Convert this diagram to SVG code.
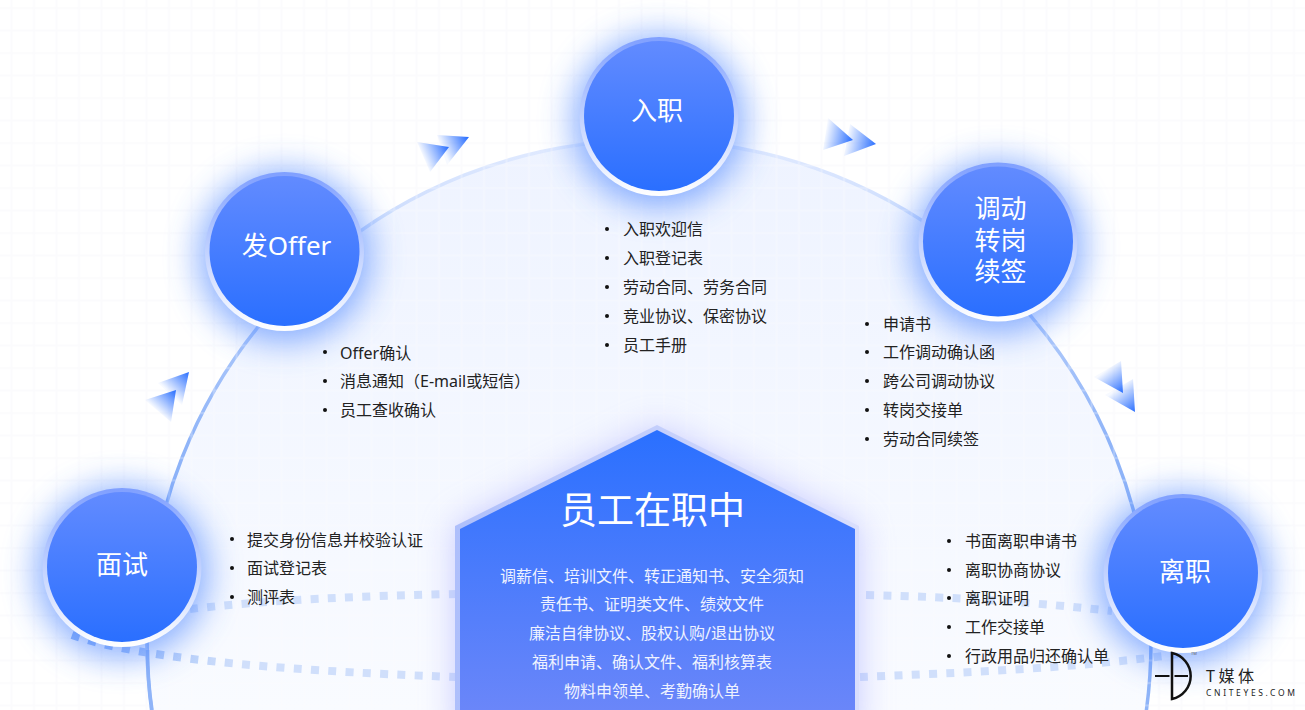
<svg xmlns="http://www.w3.org/2000/svg" width="1305" height="710" viewBox="0 0 1305 710">
<style>
text{font-family:"Noto Sans","Noto Sans CJK SC",sans-serif}
.item{font-size:16px;fill:#222}
.dot{fill:#111}
.label{font-size:26px;fill:#fff;text-anchor:middle}
.body{font-size:16px;fill:#eef2ff;text-anchor:middle}
.dash{fill:none;stroke-width:8;stroke-dasharray:8 9.300}
.ring{fill:url(#ringGrad)}
.disc{fill:url(#discGrad)}
.halo{fill:#3d7bff;opacity:.62;filter:url(#soft)}
</style>
<defs>
<pattern id="grid" width="22.500" height="22.500" patternUnits="userSpaceOnUse"><path d="M11.500 0V22.500M0 8H22.500" fill="none" stroke="#fbfbfd" stroke-width="2"/></pattern>
<linearGradient id="ringGrad" x1="0" y1="0" x2="0" y2="1"><stop offset="0" stop-color="#7f9fff"/><stop offset=".4" stop-color="#b4c8ff"/><stop offset="1" stop-color="#fff"/></linearGradient>
<linearGradient id="discGrad" x1="0" y1="0" x2="0" y2="1"><stop offset="0" stop-color="#628bff"/><stop offset="1" stop-color="#2a6fff"/></linearGradient>
<linearGradient id="arcStroke" gradientUnits="userSpaceOnUse" x1="0" y1="140" x2="0" y2="440"><stop offset="0" stop-color="#e2ebff"/><stop offset="1" stop-color="#8fb4f8"/></linearGradient>
<linearGradient id="arcFill" gradientUnits="userSpaceOnUse" x1="0" y1="140" x2="0" y2="710"><stop offset="0" stop-color="#eef3ff"/><stop offset="1" stop-color="#f9fbff"/></linearGradient>
<linearGradient id="houseGrad" gradientUnits="userSpaceOnUse" x1="0" y1="430" x2="0" y2="710"><stop offset="0" stop-color="#2a70ff"/><stop offset="1" stop-color="#6a86f9"/></linearGradient>
<linearGradient id="houseEdge" x1="0" y1="0" x2="1" y2="0"><stop offset="0" stop-color="#aebffb"/><stop offset="1" stop-color="#d9defd"/></linearGradient>
<linearGradient id="dashLeft" gradientUnits="userSpaceOnUse" x1="72" y1="0" x2="240" y2="0"><stop offset="0" stop-color="#93b7f7"/><stop offset="1" stop-color="#d0dffb"/></linearGradient>
<linearGradient id="arrowTop" x1=".2" y1=".5" x2="1" y2=".17"><stop offset="0" stop-color="#2a6fff" stop-opacity=".04"/><stop offset="1" stop-color="#2a6fff"/></linearGradient>
<linearGradient id="arrowLeft" x1=".42" y1=".66" x2="1" y2="0"><stop offset="0" stop-color="#2a6fff" stop-opacity=".04"/><stop offset="1" stop-color="#2a6fff"/></linearGradient>
<linearGradient id="arrowRight" x1=".08" y1=".5" x2="1" y2=".69"><stop offset="0" stop-color="#2a6fff" stop-opacity=".04"/><stop offset="1" stop-color="#2a6fff"/></linearGradient>
<linearGradient id="arrowDown" x1=".47" y1=".25" x2="1" y2="1"><stop offset="0" stop-color="#2a6fff" stop-opacity=".04"/><stop offset="1" stop-color="#2a6fff"/></linearGradient>
<filter id="soft" x="-50%" y="-50%" width="200%" height="200%"><feGaussianBlur stdDeviation="17"/></filter>
<filter id="softWide" x="-20%" y="-20%" width="140%" height="140%"><feGaussianBlur stdDeviation="17"/></filter>
</defs>

<rect width="1305" height="710" fill="#fff"/>
<rect width="1305" height="710" fill="url(#grid)"/>

<circle id="orbit" cx="649" cy="642" r="502" fill="url(#arcFill)" stroke="url(#arcStroke)" stroke-width="3.500"/>
<rect width="1305" height="710" fill="url(#grid)" opacity=".3"/>

<g id="connectors">
<path class="dash" stroke="#d0dffb" d="M190 609C270 600 360 596 456 594"/>
<path class="dash" stroke="url(#dashLeft)" d="M72 635C130 656 260 670 456 677"/>
<path class="dash" stroke="#d0dffb" d="M866 595C960 597 1040 603 1112 611"/>
<path class="dash" stroke="#d0dffb" d="M860 677C960 673 1080 668 1178 654"/>
<path d="M147.500 650Q147.500 680 152 710" fill="none" stroke="#8fb4f8" stroke-width="3.500"/>
<g id="flow-arrows">
<path fill="url(#arrowTop)" d="M417 142 449 147 430 172Z"/>
<path fill="url(#arrowTop)" d="M437 135 469 137 447 165Z"/>
<path fill="url(#arrowLeft)" d="M145 400 176 390 171 422Z"/>
<path fill="url(#arrowLeft)" d="M158 383 189 372 182 405Z"/>
<path fill="url(#arrowRight)" d="M828 118 853 140 823 150Z"/>
<path fill="url(#arrowRight)" d="M850 124 876 144 844 156Z"/>
<path fill="url(#arrowDown)" d="M1121 361 1123 393 1094 377Z"/>
<path fill="url(#arrowDown)" d="M1133 379 1135 412 1105 395Z"/>
</g>
</g>

<g id="node-core">
<path d="M657 427 859 526V740H455V526Z" fill="#9a9cff" opacity=".5" filter="url(#softWide)"/>
<path d="M657 425 859 526V710H455V526Z" fill="url(#houseEdge)"/>
<path d="M657 430 855 529V710H460V529Z" fill="url(#houseGrad)"/>
<text x="652.500" y="524" font-size="37" fill="#fff" text-anchor="middle">员工在职中</text>
<text class="body" x="652" y="582">调薪信、培训文件、转正通知书、安全须知</text>
<text class="body" x="652" y="610">责任书、证明类文件、绩效文件</text>
<text class="body" x="652" y="639">廉洁自律协议、股权认购/退出协议</text>
<text class="body" x="652" y="668">福利申请、确认文件、福利核算表</text>
<text class="body" x="652" y="697">物料申领单、考勤确认单</text>
</g>

<g id="node-interview">
<circle class="halo" cx="122" cy="572" r="86"/>
<circle class="ring" cx="122" cy="567.500" r="79.500"/>
<circle class="disc" cx="122" cy="567" r="75"/>
<text class="label" x="122" y="574">面试</text>
</g>
<g id="node-offer">
<circle class="halo" cx="284.500" cy="256" r="86"/>
<circle class="ring" cx="284.500" cy="251.500" r="79.500"/>
<circle class="disc" cx="284.500" cy="251" r="75"/>
<text class="label" x="286.500" y="255">发Offer</text>
</g>
<g id="node-onboard">
<circle class="halo" cx="659" cy="121" r="86"/>
<circle class="ring" cx="659" cy="116.500" r="79.500"/>
<circle class="disc" cx="659" cy="116" r="75"/>
<text class="label" x="657" y="120">入职</text>
</g>
<g id="node-transfer">
<circle class="halo" cx="998" cy="247" r="86"/>
<circle class="ring" cx="998" cy="242" r="79.500"/>
<circle class="disc" cx="998" cy="241.500" r="75"/>
<text class="label" x="1000.500" y="217.500">调动</text>
<text class="label" x="1000.500" y="249.500">转岗</text>
<text class="label" x="1000.500" y="281">续签</text>
</g>
<g id="node-leave">
<circle class="halo" cx="1183" cy="578" r="86"/>
<circle class="ring" cx="1183" cy="573.500" r="79.500"/>
<circle class="disc" cx="1183" cy="573" r="75"/>
<text class="label" x="1185" y="581">离职</text>
</g>

<g id="list-interview">
<circle class="dot" cx="232" cy="539" r="2"/><text class="item" x="247" y="546">提交身份信息并校验认证</text>
<circle class="dot" cx="232" cy="568" r="2"/><text class="item" x="247" y="574">面试登记表</text>
<circle class="dot" cx="232" cy="597" r="2"/><text class="item" x="247" y="603">测评表</text>
</g>
<g id="list-offer">
<circle class="dot" cx="325" cy="352" r="2"/><text class="item" x="340" y="359">Offer确认</text>
<circle class="dot" cx="325" cy="381" r="2"/><text class="item" x="340" y="387">消息通知（E-mail或短信）</text>
<circle class="dot" cx="325" cy="410" r="2"/><text class="item" x="340" y="416">员工查收确认</text>
</g>
<g id="list-onboard">
<circle class="dot" cx="607" cy="229" r="2"/><text class="item" x="623" y="235">入职欢迎信</text>
<circle class="dot" cx="607" cy="258" r="2"/><text class="item" x="623" y="264">入职登记表</text>
<circle class="dot" cx="607" cy="287" r="2"/><text class="item" x="623" y="293">劳动合同、劳务合同</text>
<circle class="dot" cx="607" cy="316" r="2"/><text class="item" x="623" y="322">竞业协议、保密协议</text>
<circle class="dot" cx="607" cy="345" r="2"/><text class="item" x="623" y="351">员工手册</text>
</g>
<g id="list-transfer">
<circle class="dot" cx="867" cy="324" r="2"/><text class="item" x="883" y="330">申请书</text>
<circle class="dot" cx="867" cy="352" r="2"/><text class="item" x="883" y="358">工作调动确认函</text>
<circle class="dot" cx="867" cy="381" r="2"/><text class="item" x="883" y="387">跨公司调动协议</text>
<circle class="dot" cx="867" cy="410" r="2"/><text class="item" x="883" y="416">转岗交接单</text>
<circle class="dot" cx="867" cy="439" r="2"/><text class="item" x="883" y="445">劳动合同续签</text>
</g>
<g id="list-leave">
<circle class="dot" cx="949" cy="541" r="2"/><text class="item" x="965" y="547">书面离职申请书</text>
<circle class="dot" cx="949" cy="570" r="2"/><text class="item" x="965" y="576">离职协商协议</text>
<circle class="dot" cx="949" cy="598" r="2"/><text class="item" x="965" y="604">离职证明</text>
<circle class="dot" cx="949" cy="627" r="2"/><text class="item" x="965" y="633">工作交接单</text>
<circle class="dot" cx="949" cy="656" r="2"/><text class="item" x="965" y="662">行政用品归还确认单</text>
</g>

<g id="brand-mark">
<path d="M1172 653A23.500 23.500 0 0 1 1172 699Z" fill="none" stroke="#111" stroke-width="2.500"/>
<path d="M1155 676H1169.500M1174.500 676H1188" stroke="#111" stroke-width="2"/>
<text x="1191" y="655" font-size="4" fill="#666">TM</text>
<text x="1206" y="682" font-size="16" fill="#222" letter-spacing="3.500">T媒体</text>
<text x="1206" y="696" font-size="8.500" fill="#222" letter-spacing="2.650">CNITEYES.COM</text>
</g>
</svg>
